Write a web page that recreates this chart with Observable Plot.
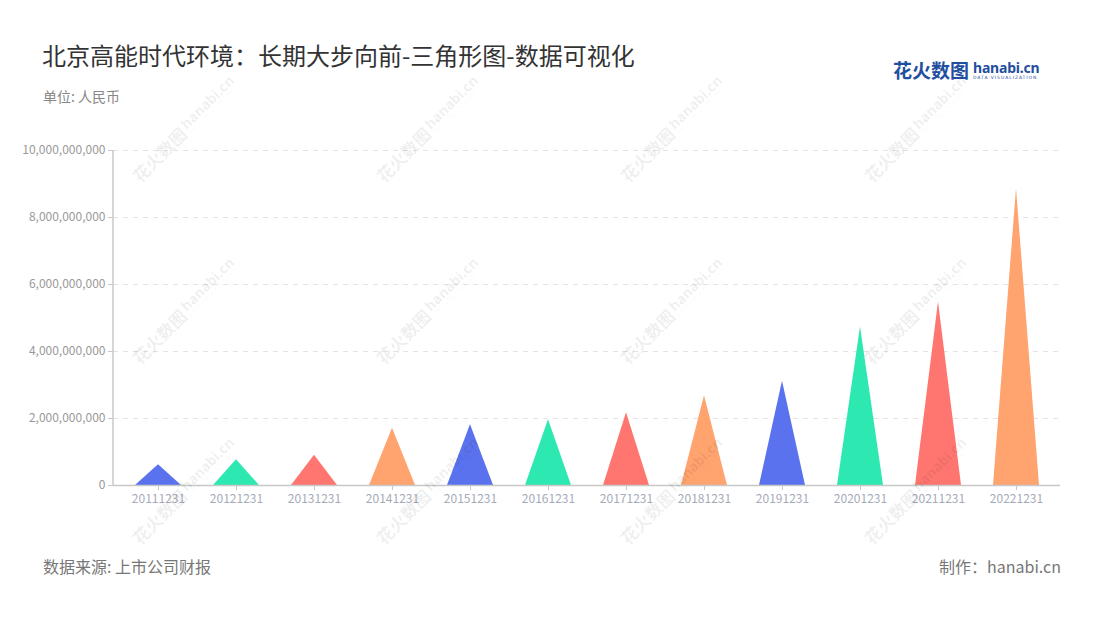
<!DOCTYPE html>
<html>
<head>
<meta charset="utf-8">
<script src="https://cdn.jsdelivr.net/npm/d3@7"></script>
<script src="https://cdn.jsdelivr.net/npm/@observablehq/plot@0.6"></script>
<style>
  html, body { margin: 0; padding: 0; background: #fff; }
  body { width: 1100px; height: 620px; position: relative; overflow: hidden;
         font-family: "Noto Sans CJK SC", "Noto Sans", sans-serif; }
  #title { position: absolute; left: 42px; top: 43px; font-size: 24px; line-height: 24px; color: #333; }
  #subtitle { position: absolute; left: 43px; top: 89px; font-size: 14px; line-height: 14px; color: #888; }
  #logo { position: absolute; left: 893px; top: 58px; color: #1f4f9e; white-space: nowrap; }
  #logo .cn { font-size: 19px; font-weight: 700; letter-spacing: 0px; vertical-align: top; line-height: 24px; }
  #logo .en { display: inline-block; vertical-align: top; margin-left: 4px; line-height: 1; }
  #logo .en b { display: block; font-family: "Noto Sans", sans-serif; font-size: 14px; font-weight: 700; letter-spacing: -0.2px; margin-top: 3px; }
  #logo .en i { display: block; font-style: normal; font-size: 4.5px; letter-spacing: 0.95px; margin-top: 1px; font-family: "DejaVu Sans", sans-serif; }
  #chart { position: absolute; left: 0; top: 130px; }
  #source { position: absolute; left: 43px; top: 558px; font-size: 16px; line-height: 16px; color: #777; }
  #maker { position: absolute; right: 39px; top: 558px; font-size: 16px; line-height: 16px; color: #777; }
  #wm { position: absolute; left: 0; top: 0; width: 1100px; height: 620px; pointer-events: none; }
  .w { position: absolute; transform: translate(-50%, -50%) rotate(-45deg); color: rgba(0,0,0,0.075);
       white-space: nowrap; font-size: 17px; font-weight: 700; }
  .w span { display: inline-block; vertical-align: middle; }
  .w .e { font-family: "Noto Sans", sans-serif; font-size: 14px; margin-left: 3px; line-height: 1; }
  .w .e small { display: block; font-size: 4.5px; letter-spacing: 0.8px; font-weight: 400; }
</style>
</head>
<body>
<div id="title">北京高能时代环境：长期大步向前-三角形图-数据可视化</div>
<div id="subtitle">单位: 人民币</div>
<div id="logo"><span class="cn">花火数图</span><span class="en"><b>hanabi.cn</b><i>DATA VISUALIZATION</i></span></div>
<div id="chart"></div>
<div id="source">数据来源: 上市公司财报</div>
<div id="maker">制作：hanabi.cn</div>
<div id="wm"></div>
<script>
// ---- data ----
const years = ["20111231","20121231","20131231","20141231","20151231","20161231",
               "20171231","20181231","20191231","20201231","20211231","20221231"];
const values = [0.62e9, 0.77e9, 0.90e9, 1.71e9, 1.81e9, 1.96e9,
                2.17e9, 2.68e9, 3.11e9, 4.73e9, 5.47e9, 8.86e9];
const yTicks = [0, 2e9, 4e9, 6e9, 8e9, 10e9];
const palette = ["#5a72ee", "#2ee8b1", "#ff7670", "#ffa36f"];

const data = years.map((year, i) => ({year, value: values[i], color: palette[i % palette.length]}));

const plot = Plot.plot({
  width: 1100,
  height: 390,
  marginTop: 20,
  marginBottom: 35,
  marginLeft: 113,
  marginRight: 40,
  style: {fontFamily: "'Noto Sans CJK SC', 'Noto Sans', sans-serif", fontSize: "12px", background: "transparent"},
  x: {type: "band", domain: years, padding: 0, label: null},
  y: {domain: [0, 10e9], label: null},
  marks: [
    Plot.gridY(yTicks, {stroke: "#e3e3e3", strokeOpacity: 1, strokeWidth: 1.2, strokeDasharray: "5,5"}),
    Plot.barY(data, {x: "year", y: "value", fill: "color", insetLeft: 16, insetRight: 16}),
    Plot.ruleY([0], {stroke: "#c8c8c8", strokeWidth: 1.5}),
    Plot.axisY(yTicks, {tickFormat: d3.format(","), tickSize: 5, tickPadding: 3, stroke: "#c8c8c8", color: "#999", fontSize: 12, label: null}),
    Plot.axisX({tickSize: 5, tickPadding: 4, stroke: "#c8c8c8", color: "#a5abb9", fontSize: 12, label: null})
  ]
});

// convert bars into triangles (base on the baseline, apex at the value)
d3.select(plot).selectAll('g[aria-label="bar"] rect').each(function() {
  const r = d3.select(this);
  const x = +r.attr("x"), y = +r.attr("y"), w = +r.attr("width"), h = +r.attr("height");
  const p = d3.select(this.parentNode).insert("path", () => this)
    .attr("d", `M${x},${y + h}L${x + w / 2},${y}L${x + w},${y + h}Z`)
    .attr("fill", r.attr("fill"));
  if (r.attr("transform")) p.attr("transform", r.attr("transform"));
  r.remove();
});

// left axis line
const xr = plot.scale("x").range, yr = plot.scale("y").range;
d3.select(plot).append("line")
  .attr("x1", xr[0]).attr("x2", xr[0]).attr("y1", yr[0]).attr("y2", yr[1])
  .attr("stroke", "#c8c8c8").attr("stroke-width", 1.5);

document.getElementById("chart").appendChild(plot);

// watermarks
const wmX = [183, 427, 671, 915];
const wmY = [128, 310, 490];
const wm = document.getElementById("wm");
for (const y of wmY) for (const x of wmX) {
  const d = document.createElement("div");
  d.className = "w";
  d.style.left = x + "px";
  d.style.top = y + "px";
  d.innerHTML = '<span>花火数图</span><span class="e">hanabi.cn<small>DATA VISUALIZATION</small></span>';
  wm.appendChild(d);
}
</script>
</body>
</html>
